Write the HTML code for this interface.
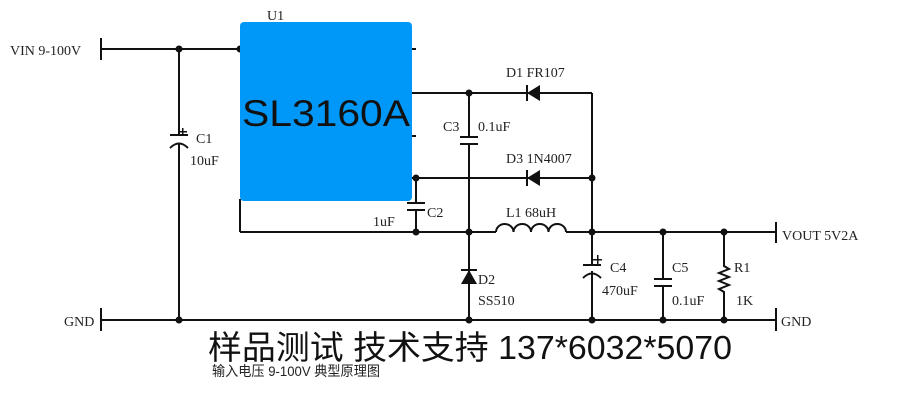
<!DOCTYPE html>
<html><head><meta charset="utf-8"><style>
html,body{margin:0;padding:0;background:#fff;}
svg{display:block;}
.s{font-family:"Liberation Serif","Noto Serif CJK SC",serif;font-size:14px;fill:#222;}
</style></head><body>
<svg width="900" height="405" viewBox="0 0 900 405" xmlns="http://www.w3.org/2000/svg">
<g stroke="#111" stroke-width="2" fill="none">
<line x1="101" y1="49" x2="241" y2="49"/>
<line x1="101" y1="38" x2="101" y2="60"/>
<line x1="412" y1="49" x2="416" y2="49"/>
<line x1="412" y1="136" x2="416" y2="136"/>
<line x1="179" y1="49" x2="179" y2="135"/>
<line x1="170" y1="135" x2="188" y2="135"/>
<path d="M170 148 Q179 139 188 148"/>
<line x1="179" y1="143" x2="179" y2="320"/>
<line x1="412" y1="93" x2="592" y2="93"/>
<line x1="592" y1="93" x2="592" y2="320"/>
<line x1="469" y1="93" x2="469" y2="137"/>
<line x1="460" y1="137" x2="478" y2="137"/>
<line x1="460" y1="144" x2="478" y2="144"/>
<line x1="469" y1="144" x2="469" y2="320"/>
<line x1="412" y1="178" x2="592" y2="178"/>
<line x1="416" y1="178" x2="416" y2="203"/>
<line x1="407" y1="203" x2="425" y2="203"/>
<line x1="407" y1="210" x2="425" y2="210"/>
<line x1="416" y1="210" x2="416" y2="232"/>
<line x1="240" y1="199" x2="240" y2="232"/>
<line x1="240" y1="232" x2="496" y2="232"/>
<path d="M496 232 a8.75 8 0 0 1 17.5 0 a8.75 8 0 0 1 17.5 0 a8.75 8 0 0 1 17.5 0 a8.75 8 0 0 1 17.5 0"/>
<line x1="566" y1="232" x2="776" y2="232"/>
<line x1="776" y1="222" x2="776" y2="243"/>
<line x1="101" y1="320" x2="776" y2="320"/>
<line x1="101" y1="308" x2="101" y2="331"/>
<line x1="776" y1="308" x2="776" y2="331"/>
<line x1="583" y1="265" x2="601" y2="265"/>
<path d="M583 278 Q592 269 601 278"/>
<line x1="663" y1="232" x2="663" y2="279"/>
<line x1="654" y1="279" x2="672" y2="279"/>
<line x1="654" y1="286" x2="672" y2="286"/>
<line x1="663" y1="286" x2="663" y2="320"/>
<path d="M724 232 V266 l5 3 l-10 4 l10 4 l-10 4 l10 4 l-10 4 l5 3 V320"/>
<line x1="461" y1="270" x2="477" y2="270"/>
<line x1="527" y1="85" x2="527" y2="101"/>
<line x1="527" y1="170" x2="527" y2="186"/>
</g>
<g fill="#fff"><rect x="585" y="266" width="14" height="5"/></g>
<g fill="#111">
<polygon points="527,93 540,85 540,101"/>
<polygon points="527,178 540,170 540,186"/>
<polygon points="469,270 461,284 477,284"/>
<circle cx="179" cy="49" r="3.5"/><circle cx="240" cy="49" r="3.5"/>
<circle cx="469" cy="93" r="3.5"/><circle cx="416" cy="178" r="3.5"/><circle cx="592" cy="178" r="3.5"/>
<circle cx="416" cy="232" r="3.5"/><circle cx="469" cy="232" r="3.5"/><circle cx="592" cy="232" r="3.5"/>
<circle cx="663" cy="232" r="3.5"/><circle cx="724" cy="232" r="3.5"/>
<circle cx="179" cy="320" r="3.5"/><circle cx="469" cy="320" r="3.5"/><circle cx="592" cy="320" r="3.5"/>
<circle cx="663" cy="320" r="3.5"/><circle cx="724" cy="320" r="3.5"/>
<rect x="182" y="128" width="1.5" height="8"/><rect x="178" y="131" width="9" height="1.5"/>
<rect x="597" y="255" width="1.5" height="9"/><rect x="593" y="259" width="9" height="1.5"/>
</g>
<rect x="240" y="22" width="172" height="179" rx="4" fill="#0098f8"/>
<text x="242" y="126" textLength="168" lengthAdjust="spacingAndGlyphs" font-family="Liberation Sans, sans-serif" font-size="37" fill="#111">SL3160A</text>
<g class="s">
<text x="267" y="20">U1</text>
<text x="10" y="55">VIN 9-100V</text>
<text x="196" y="143">C1</text>
<text x="190" y="165">10uF</text>
<text x="506" y="77">D1  FR107</text>
<text x="443" y="131">C3</text>
<text x="478" y="131">0.1uF</text>
<text x="506" y="163">D3  1N4007</text>
<text x="427" y="217">C2</text>
<text x="373" y="226">1uF</text>
<text x="506" y="217">L1  68uH</text>
<text x="782" y="240">VOUT 5V2A</text>
<text x="478" y="284">D2</text>
<text x="478" y="305">SS510</text>
<text x="610" y="272">C4</text>
<text x="602" y="295">470uF</text>
<text x="672" y="272">C5</text>
<text x="672" y="305">0.1uF</text>
<text x="734" y="272">R1</text>
<text x="736" y="305">1K</text>
<text x="64" y="326">GND</text>
<text x="781" y="326">GND</text>
</g>
<text x="208" y="359" textLength="524" lengthAdjust="spacingAndGlyphs" font-family="Liberation Sans, Noto Sans CJK SC, sans-serif" font-size="33" fill="#111">样品测试 技术支持 137*6032*5070</text>
<text x="212" y="376" textLength="168" lengthAdjust="spacingAndGlyphs" font-family="Liberation Sans, Noto Sans CJK SC, sans-serif" font-size="14" fill="#222">输入电压 9-100V 典型原理图</text>
</svg>
</body></html>
